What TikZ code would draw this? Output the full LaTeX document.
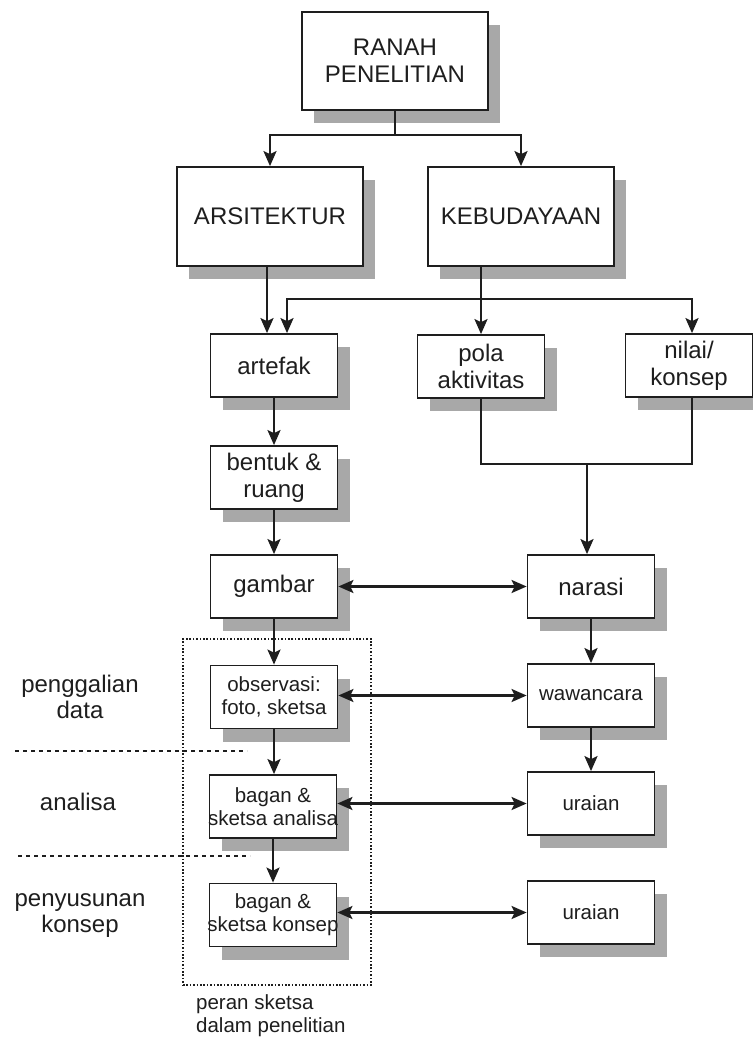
\documentclass[tikz,border=0pt]{standalone}
\usepackage{fontspec}
\setmainfont{Liberation Sans}
\usepackage{xcolor}
\definecolor{chart-black}{HTML}{1E1E1E}
\definecolor{chart-shadow}{HTML}{A8A8A8}
\usetikzlibrary{arrows.meta, shadows}

\newcommand\boxfontbig{\fontsize{24}{26.7}\selectfont}
\newcommand\boxfontsmall{\fontsize{20.5}{23.3}\selectfont}
\newcommand\overhang[1]{\makebox[0pt]{#1}}

\tikzset{
    >={Stealth[length=15pt, width=13pt, inset=3pt]},
    box/.style={draw=chart-black, line width=1.8pt, fill=white, inner sep=0pt, align=center,
        drop shadow={shadow xshift=12pt, shadow yshift=-13pt, fill=chart-shadow, opacity=1}},
    bigbox/.style={box, minimum width=186pt, minimum height=98pt, font=\boxfontbig},
    smallbox/.style={box, minimum width=127pt, minimum height=63pt, font=\boxfontbig},
    wire/.style={draw=chart-black, line width=2.2pt},
    stage/.style={font=\boxfontbig, align=center, inner sep=0pt},
    separator/.style={draw=chart-black, line width=1.3pt, dash pattern=on 4pt off 4pt}
}

\begin{document}
\begin{tikzpicture}[x=1pt, y=-1pt, color=chart-black]

    % Page
    \useasboundingbox (0, 0) rectangle (752, 1038);

    % Domains
    \node[bigbox] (ranah) at (395, 61) {RANAH\\PENELITIAN};
    \node[bigbox, minimum height=99pt] (arsitektur) at (270, 216.5) {ARSITEKTUR};
    \node[bigbox, minimum height=99pt] (kebudayaan) at (521, 216.5) {KEBUDAYAAN};

    % Objects
    \node[smallbox] (artefak) at (274, 365.5) {artefak};
    \node[smallbox] (pola) at (481, 366.5) {pola\\aktivitas};
    \node[smallbox] (nilai) at (689, 365.5) {nilai/\\konsep};

    % Left column
    \node[smallbox] (bentuk) at (274, 477.5) {bentuk \&\\ruang};
    \node[smallbox] (gambar) at (274, 586.5) {gambar};
    \node[smallbox, font=\boxfontsmall] (observasi) at (274, 697) {observasi:\\foto, sketsa};
    \node[smallbox, font=\boxfontsmall] (analisa) at (273, 806.5) {bagan \&\\\overhang{sketsa analisa}};
    \node[smallbox, font=\boxfontsmall] (konsep) at (273, 915) {bagan \&\\\overhang{sketsa konsep}};

    % Right column
    \node[smallbox] (narasi) at (591, 586.5) {narasi};
    \node[smallbox, font=\boxfontsmall] (wawancara) at (591, 695.5) {wawancara};
    \node[smallbox, font=\boxfontsmall] (uraian-analisa) at (591, 803.5) {uraian};
    \node[smallbox, font=\boxfontsmall] (uraian-konsep) at (591, 912.5) {uraian};

    % Top connectors
    \draw[wire, ->] (ranah.south) -- ++(0, 24) -| (arsitektur.north);
    \draw[wire, ->] (ranah.south) -- ++(0, 24) -| (kebudayaan.north);
    \draw[wire, ->] ([xshift=-7pt]artefak.north |- arsitektur.south) -- ([xshift=-7pt]artefak.north);
    \draw[wire, ->] (pola.north |- kebudayaan.south) -- (pola.north);
    \coordinate (spread) at (481, 299);
    \draw[wire, ->] (spread) -| ([xshift=13pt]artefak.north);
    \draw[wire, ->] (spread) -| ([xshift=3pt]nilai.north);
    \coordinate (merge) at (587, 464);
    \draw[wire] (pola.south) |- (merge) -| ([xshift=3pt]nilai.south);
    \draw[wire, ->] (merge) -- (merge |- narasi.north);

    % Columns
    \draw[wire, ->] (artefak) -- (bentuk);
    \draw[wire, ->] (bentuk) -- (gambar);
    \draw[wire, ->] (gambar) -- (observasi);
    \draw[wire, ->] (observasi.south) -- (observasi.south |- analisa.north);
    \draw[wire, ->] (analisa) -- (konsep);
    \draw[wire, ->] (narasi) -- (wawancara);
    \draw[wire, ->] (wawancara) -- (uraian-analisa);

    % Cross links
    \draw[wire, <->] (gambar) -- (narasi);
    \draw[wire, <->] (observasi.east |- wawancara.west) -- (wawancara.west);
    \draw[wire, <->] (analisa.east |- uraian-analisa.west) -- (uraian-analisa.west);
    \draw[wire, <->] (konsep.east |- uraian-konsep.west) -- (uraian-konsep.west);

    % Sketch frame
    \node[draw=chart-black, line width=2pt, dash pattern=on 1.6pt off 1.8pt, minimum width=188pt, minimum height=346pt, inner sep=0pt] (frame) at (277, 812) {};
    \node[font=\boxfontsmall, align=left, anchor=north west, inner sep=0pt] (frame-label) at (196, 994) {peran sketsa\\dalam penelitian};

    % Stages
    \node[stage] (stage-data) at (80, 697) {penggalian\\data};
    \node[stage] (stage-analisa) at (78, 801.5) {analisa};
    \node[stage] (stage-konsep) at (80, 915.5) {penyusunan\\konsep};
    \draw[separator] (15, 751) -- (247, 751);
    \draw[separator] (18, 856) -- (250, 856);

\end{tikzpicture}
\end{document}
